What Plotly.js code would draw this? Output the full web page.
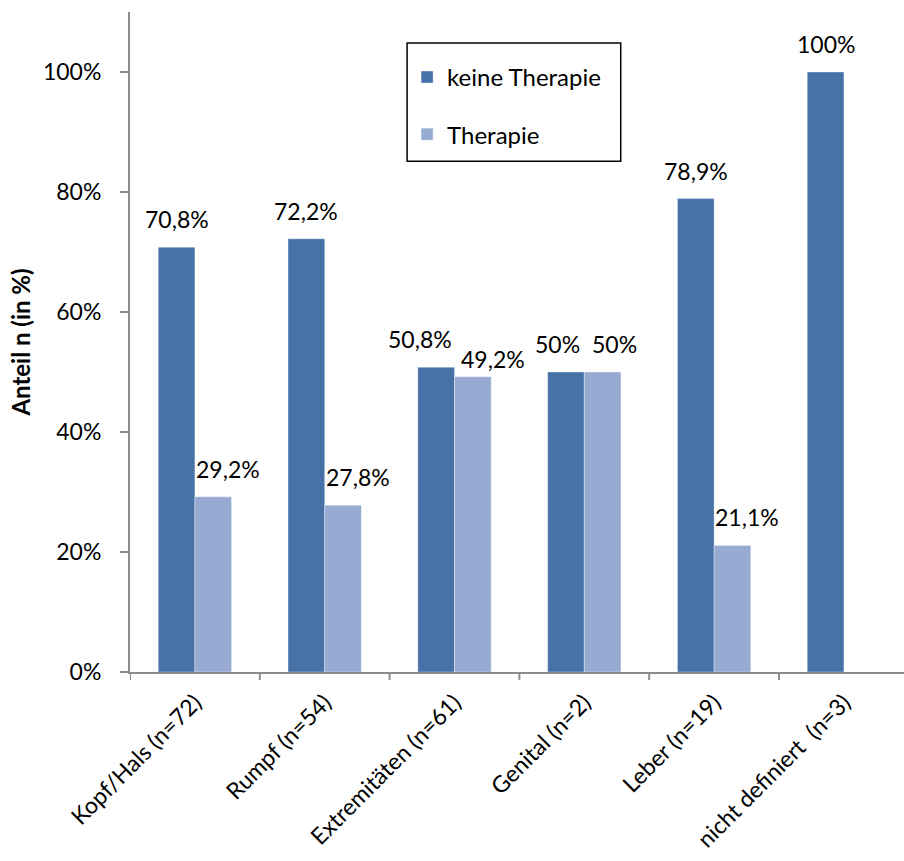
<!DOCTYPE html>
<html>
<head>
<meta charset="utf-8">
<script src="https://cdn.plot.ly/plotly-3.0.1.min.js"></script>
<style>
  html, body { margin: 0; padding: 0; background: #fff; }
  #chart { width: 904px; height: 861px; }
</style>
</head>
<body>
<div id="chart"></div>
<script>
// Anteil der Patienten mit / ohne Therapie je Lokalisation
const categories = ['Kopf/Hals (n=72)', 'Rumpf (n=54)', 'Extremitäten (n=61)', 'Genital (n=2)', 'Leber (n=19)', 'nicht definiert  (n=3)'];
const keineTherapie = [70.8, 72.2, 50.8, 50, 78.9, 100];
const therapie = [29.2, 27.8, 49.2, 50, 21.1, null];
const keineLabels = ['70,8%', '72,2%', '50,8%', '50%', '78,9%', '100%'];
const therapieLabels = ['29,2%', '27,8%', '49,2%', '50%', '21,1%', ''];

const FONT = 'Lato, "Open Sans", sans-serif';
const DARK = '#4672A8';
const LIGHT = '#96AAD2';
const AXIS = '#8c8c8c';

const idx = categories.map((_, i) => i);
const BARGAP = 0.435;
const half = (1 - BARGAP) / 4; // centre offset of each bar inside its group

const traces = [
  {
    type: 'bar', name: 'keine Therapie', x: idx, y: keineTherapie,
    marker: { color: DARK, line: { color: 'rgba(255,255,255,0.35)', width: 1 } },
    legendgroup: 'a', hoverinfo: 'skip'
  },
  {
    type: 'bar', name: 'Therapie', x: idx, y: therapie,
    marker: { color: LIGHT, line: { color: 'rgba(255,255,255,0.35)', width: 1 } },
    legendgroup: 'b', hoverinfo: 'skip'
  }
];

// value labels above the bars; the two labels of a pair are pushed apart when the bars are of similar height
const annotations = [];
idx.forEach(i => {
  const a = keineTherapie[i], b = therapie[i];
  const close = b !== null && Math.abs(a - b) < 5;
  const spread = close ? (a === b ? 1 : 2) : 0;
  annotations.push({
    x: i - half, y: a, xref: 'x', yref: 'y', text: keineLabels[i], showarrow: false,
    yanchor: 'bottom', yshift: 12, xshift: -8 * spread,
    font: { family: FONT, size: 23, color: '#000' }
  });
  if (b !== null) {
    annotations.push({
      x: i + half, y: b, xref: 'x', yref: 'y', text: therapieLabels[i], showarrow: false,
      yanchor: 'bottom', yshift: spread === 2 ? 2 : 12, xshift: close ? 4 + 8 * spread : 15,
      font: { family: FONT, size: 23, color: '#000' }
    });
  }
});

const layout = {
  width: 904, height: 861,
  margin: { l: 130, r: 0, t: 12, b: 189 },
  paper_bgcolor: '#fff', plot_bgcolor: '#fff',
  barmode: 'group', bargap: BARGAP, bargroupgap: 0,
  showlegend: true,
  legend: {
    x: 0.358, y: 0.935, xanchor: 'left', yanchor: 'top',
    bgcolor: 'rgba(0,0,0,0)', borderwidth: 0,
    font: { family: FONT, size: 24, color: '#000' },
    tracegroupgap: 23, traceorder: 'grouped'
  },
  xaxis: {
    type: 'linear', range: [-0.5, 5.463],
    tickmode: 'array', tickvals: idx, ticktext: categories,
    tickangle: -45, showgrid: false, zeroline: false,
    showline: true, linecolor: AXIS, linewidth: 2,
    ticks: '', ticklabelstandoff: 6,
    tickfont: { family: FONT, size: 23, color: '#000' }
  },
  yaxis: {
    range: [0, 110], tickvals: [0, 20, 40, 60, 80, 100],
    ticktext: ['0%', '20%', '40%', '60%', '80%', '100%'],
    showgrid: false, zeroline: false,
    showline: true, linecolor: AXIS, linewidth: 2,
    ticks: 'outside', ticklen: 8, tickcolor: AXIS, tickwidth: 2,
    ticklabelstandoff: 14,
    tickfont: { family: FONT, size: 23, color: '#000' },
    title: { text: '<b>Anteil n (in %)</b>', font: { family: FONT, size: 24, color: '#000' }, standoff: 6 }
  },
  shapes: [
    // legend frame
    { type: 'rect', xref: 'paper', yref: 'paper', x0: 0.358, x1: 0.634, y0: 0.774, y1: 0.953,
      line: { color: '#000', width: 1.5 }, fillcolor: 'rgba(0,0,0,0)', layer: 'above' }
  ].concat(
    // tick marks on the category boundaries
    idx.concat([idx.length]).map(k => ({
      type: 'line', xref: 'x', yref: 'paper', x0: k - 0.5, x1: k - 0.5, y0: 0, y1: -0.012,
      line: { color: AXIS, width: 2 }
    }))
  ),
  annotations: annotations
};

Plotly.newPlot('chart', traces, layout, { staticPlot: true, displayModeBar: false });
</script>
</body>
</html>
